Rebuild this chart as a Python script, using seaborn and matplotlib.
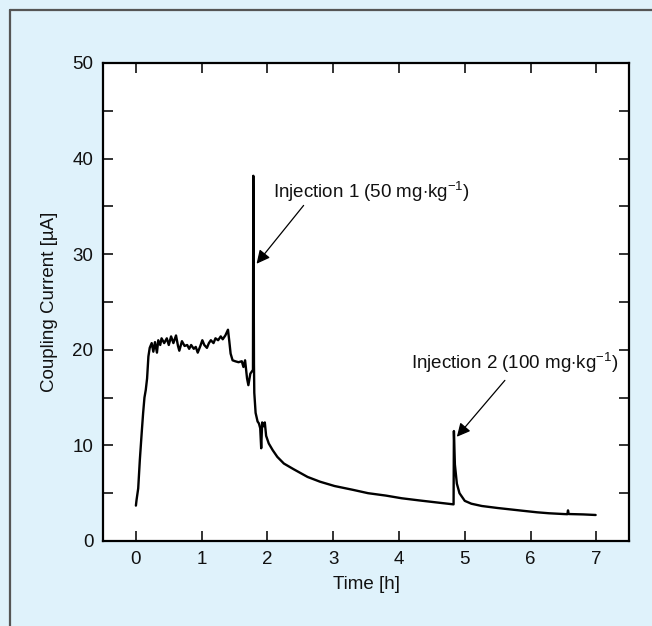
import matplotlib
matplotlib.use("Agg")
import matplotlib.pyplot as plt
import seaborn as sns
import pandas as pd
from matplotlib.lines import Line2D

# Trace: time [h] and coupling current [uA]
rise_t = [0.0, 0.01, 0.035, 0.06, 0.09, 0.11, 0.13, 0.15, 0.17, 0.19, 0.21]
rise_y = [3.7, 4.3, 5.5, 8.5, 11.5, 13.4, 15.0, 15.8, 17.0, 19.3, 20.2]

plateau_t = [0.24, 0.265, 0.29, 0.32, 0.34, 0.37, 0.39, 0.43, 0.47, 0.50,
             0.535, 0.57, 0.61, 0.64, 0.66, 0.70, 0.74, 0.78, 0.81, 0.84,
             0.88, 0.91, 0.94, 0.98, 1.01, 1.04, 1.08, 1.11, 1.14, 1.18,
             1.21, 1.25, 1.29, 1.32, 1.36, 1.40]
plateau_y = [20.7, 19.8, 20.8, 19.7, 21.0, 20.5, 21.2, 20.7, 21.2, 20.5,
             21.4, 20.7, 21.5, 20.4, 19.9, 20.9, 20.4, 20.5, 20.1, 20.5,
             20.1, 20.3, 19.7, 20.4, 21.0, 20.5, 20.2, 20.7, 21.0, 20.7,
             21.2, 21.0, 21.4, 21.1, 21.5, 22.1]

drop_t = [1.42, 1.44, 1.47, 1.51, 1.56, 1.61, 1.635, 1.66, 1.69, 1.71, 1.74, 1.78]
drop_y = [20.9, 19.6, 18.9, 18.8, 18.7, 18.8, 18.2, 18.9, 17.0, 16.3, 17.5, 17.9]

inj1_t = [1.785, 1.79, 1.795, 1.80, 1.82, 1.85, 1.87, 1.89, 1.905, 1.92,
          1.94, 1.96, 1.98, 2.02, 2.08, 2.15, 2.25, 2.40, 2.61, 2.80,
          3.02, 3.30, 3.53, 3.80, 4.04, 4.30, 4.55, 4.83]
inj1_y = [38.2, 30.0, 18.5, 15.5, 13.4, 12.5, 12.3, 11.8, 9.7, 12.4,
          12.0, 12.4, 11.0, 10.2, 9.5, 8.8, 8.1, 7.5, 6.7, 6.2,
          5.75, 5.35, 5.0, 4.75, 4.47, 4.25, 4.05, 3.83]

inj2_t = [4.835, 4.85, 4.88, 4.92, 5.0, 5.1, 5.26, 5.5, 5.87, 6.1,
          6.28, 6.5, 6.56, 6.57, 6.58, 6.8, 6.99]
inj2_y = [11.5, 8.0, 6.0, 5.0, 4.2, 3.9, 3.66, 3.45, 3.17, 3.0,
          2.9, 2.82, 2.8, 3.2, 2.82, 2.78, 2.72]

x_ticks = [0, 1, 2, 3, 4, 5, 6, 7]
y_ticks = [0, 10, 20, 30, 40, 50]

df = pd.DataFrame({
    "time": rise_t + plateau_t + drop_t + inj1_t + inj2_t,
    "current": rise_y + plateau_y + drop_y + inj1_y + inj2_y,
})

sns.set_style("ticks")
plt.rcParams["font.family"] = ["Liberation Sans", "DejaVu Sans"]
plt.rcParams["mathtext.fontset"] = "custom"
plt.rcParams["mathtext.rm"] = "Liberation Sans"
plt.rcParams["mathtext.it"] = "Liberation Sans:italic"
plt.rcParams["text.color"] = "#111111"
plt.rcParams["axes.labelcolor"] = "#111111"
plt.rcParams["xtick.color"] = "#111111"
plt.rcParams["ytick.color"] = "#111111"

fs = 13.5
bg = "#dff2fb"
fig = plt.figure(figsize=(6.52, 6.26), dpi=100, facecolor=bg)
ax = fig.add_axes([0.158, 0.1358, 0.807, 0.7636])
ax.set_facecolor("white")

sns.lineplot(data=df, x="time", y="current", ax=ax, color="black",
             linewidth=1.7, estimator=None, sort=False)

ax.set_xlim(-0.5, 7.5)
ax.set_ylim(0, 50)
ax.set_xticks(x_ticks)
ax.set_yticks(y_ticks)
ax.set_yticks([5, 15, 25, 35, 45], minor=True)
ax.tick_params(which="both", direction="in", top=True, right=True,
               labelsize=fs, width=1.2, length=7, pad=7)
for s in ax.spines.values():
    s.set_linewidth(1.6)
    s.set_color("black")

ax.set_xlabel("Time [h]", fontsize=fs, labelpad=6)
ax.set_ylabel("Coupling Current [µA]", fontsize=fs, labelpad=10)

arrow = dict(arrowstyle="-|>", color="black", lw=0.9, mutation_scale=20,
             shrinkA=0, shrinkB=0)
ax.text(2.09, 36.5, r"Injection 1 (50 mg$\cdot$kg$^{-1}$)",
        fontsize=fs, va="center", ha="left")
ax.annotate("", xy=(1.835, 29.0), xytext=(2.55, 35.1), arrowprops=arrow)
ax.text(4.19, 18.6, r"Injection 2 (100 mg$\cdot$kg$^{-1}$)",
        fontsize=fs, va="center", ha="left")
ax.annotate("", xy=(4.88, 10.9), xytext=(5.61, 16.8), arrowprops=arrow)

# frame lines of the panel (left and top edges)
fig.add_artist(Line2D([0.0153, 0.0153], [0.0, 0.984], transform=fig.transFigure,
                      color="#555555", lw=1.6))
fig.add_artist(Line2D([0.0153, 1.0], [0.984, 0.984], transform=fig.transFigure,
                      color="#555555", lw=1.6))

fig.savefig("out.png", dpi=100, facecolor=bg)
